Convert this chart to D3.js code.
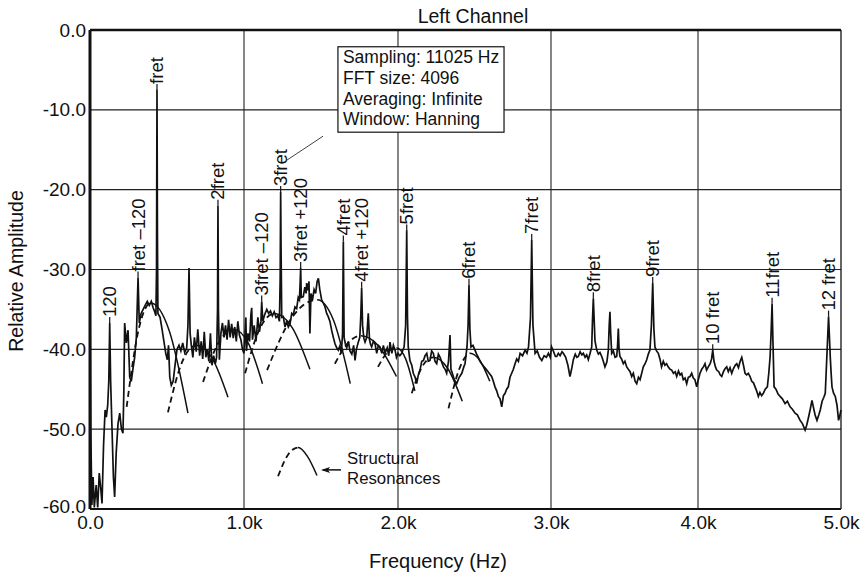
<!DOCTYPE html>
<html>
<head>
<meta charset="utf-8">
<script src="https://cdn.jsdelivr.net/npm/d3@7"></script>
<style>
  body { margin: 0; background: #fff; }
  svg text { font-family: "Liberation Sans", Arial, Helvetica, sans-serif; fill: #111; }
</style>
</head>
<body>
<svg id="chart" width="863" height="576"></svg>
<script>
// ---------------- DATA ----------------
const chartTitle = "Left Channel";
const xAxisTitle = "Frequency (Hz)";
const yAxisTitle = "Relative Amplitude";

const freqTicks = [0, 1000, 2000, 3000, 4000, 5000];
const freqTickLabels = ["0.0", "1.0k", "2.0k", "3.0k", "4.0k", "5.0k"];
const dbTicks = [0, -10, -20, -30, -40, -50, -60];
const dbTickLabels = ["0.0", "-10.0", "-20.0", "-30.0", "-40.0", "-50.0", "-60.0"];

const freqHz = [
  0,5,12,20,28,40,50,60,70,78,88,98,106,115,122,128,134,142,152,160,170,182,193,204,214,220,225,236,247,258,268,280,290,301,312,320,
  332,345,358,372,385,398,410,420,428,432,435,438,441,455,468,480,492,502,510,518,528,540,552,565,578,590,602,615,628,636,643,650,
  658,668,678,690,700,712,722,732,742,752,762,772,782,792,803,814,822,828,831,834,840,850,860,870,880,890,900,910,920,930,940,950,
  960,970,980,990,1000,
  1008,1012,1016,1026,1036,1045,1050,1055,1066,1078,1090,1100,1110,1115,1122,1135,1148,1160,1172,1184,1196,1208,1220,1230,1235,1238,1241,1245,
  1255,1266,1277,1288,1299,1310,1320,1331,1342,1352,1360,1365,1368,1372,1385,1395,1403,1407,1415,1422,1428,1435,1445,1455,1465,1475,
  1483,1492,1504,1515,1526,1537,1547,1558,1569,1580,1591,1602,1612,1622,1632,1640,1645,1650,1658,1667,1678,1688,1700,1712,1721,1730,
  1742,1752,1758,1764,1770,1778,1786,1797,1807,1815,1822,1829,1840,1851,1862,1872,1883,1895,1905,1916,1930,1940,1948,1960,1970,1981,
  1990,2000,
  2012,2024,2040,2050,2057,2062,2067,2078,2090,2100,2112,2122,2133,2144,2155,2166,2177,2188,2198,2209,2220,2231,2242,2253,2264,2275,
  2286,2297,2308,2318,2330,2340,2346,2355,2368,2384,2400,2417,2430,2438,2446,2451,2458,2464,2470,2477,2490,2503,2514,2525,2536,2547,
  2563,2580,2596,2612,2623,2634,2645,2656,2667,2678,2689,2700,2710,2721,2732,2743,2754,2765,2776,2787,2798,2814,2831,2843,2853,2866,
  2874,2882,2896,2910,2925,2940,2955,2970,2983,2995,3004,
  3018,3030,3039,3050,3062,3075,3084,3100,3115,3129,3140,3152,3165,3176,3186,3198,3210,3220,3232,3243,3254,3266,3277,3282,3288,3294,
  3299,3311,3322,3333,3345,3356,3367,3380,3390,3396,3401,3406,3413,3424,3436,3447,3453,3458,3463,3469,3480,3492,3503,3515,3526,3538,
  3549,3560,3572,3583,3595,3606,3617,3628,3640,3651,3662,3673,3683,3692,3700,3707,3718,3730,3741,3752,3764,3775,3786,3797,3810,3821,
  3833,3845,3855,3867,3878,3889,3900,3912,3923,3934,3946,3957,3968,3979,3991,
  4002,4014,4026,4038,4049,4060,4072,4085,4095,4103,4112,4122,4131,4145,4155,4166,4178,4190,4201,4212,4224,4236,4248,4260,4271,4283,
  4295,4306,4318,4329,4340,4352,4364,4376,4388,4399,4410,4422,4433,4445,4457,4470,4485,4495,4504,4511,4518,4524,4532,4545,4560,4574,
  4590,4609,4625,4644,4660,4679,4695,4714,4730,4749,4760,4773,4785,4797,4810,4820,4832,4845,4855,4868,4880,4890,4896,4902,4908,4913,
  4918,4925,4931,4937,4948,4960,4972,4983,4992,5000
];
const amplitudeDb = [
  -30,-50,-59.5,-56,-59.8,-57,-59.8,-55.5,-57.5,-59.3,-52,-47.6,-48.5,-47,-44,-36.7,-44,-49.3,-56,-58.5,-53,-49.3,-48,-50,-50.5,-45,-36.7,-39.2,-37.6,-43.5,-44,-42.3,-41,-38.5,-31,-36.7,
  -35.5,-35,-34.5,-34,-34.5,-34,-34.8,-35.3,-35.8,-30,-7.5,-26,-35.5,-36,-37.5,-39,-40.5,-41.3,-39.5,-43.5,-44.5,-44,-42,-40,-39.5,-40.2,-39.2,-40.4,-39.8,-37,-29.8,-38,
  -39.5,-41,-38.5,-40.3,-37.5,-40.8,-39,-41.2,-37.8,-41,-40,-41.5,-38,-42,-40.8,-41.8,-41,-35,-22,-35,-41.3,-38,-36.7,-38.5,-37,-38.8,-36.3,-38.5,-36.8,-38.6,-37.2,-39,
  -36.5,-38.2,-38.8,-40,-40.5,
  -37.5,-36,-40.2,-38,-39,-35.6,-34.8,-38.8,-37,-39,-36,-37.8,-36.5,-34,-36.5,-35.6,-35,-35.5,-35.2,-35.8,-35.3,-36,-35.8,-36.5,-31,-20.3,-28,-36,
  -35.9,-37.2,-36.5,-37.2,-36.8,-35.5,-35.7,-34.7,-34.9,-33.5,-33.8,-31.5,-29.8,-33.5,-33.4,-32.2,-33,-31.7,-32.6,-31.5,-38,-33,-33.8,-32.5,-33,-31.5,
  -31.1,-32.5,-33.8,-34.2,-34.7,-35.5,-35.9,-36.5,-37.6,-38.5,-39.3,-39.8,-40.1,-39.6,-40.5,-38,-26.5,-38.5,-39.3,-39.8,-39,-40.2,-40.6,-39.5,-41.4,-40,
  -39.1,-38.5,-36,-32.3,-37,-38.6,-39.1,-38.5,-35.5,-38.8,-39.4,-39.7,-39,-39.3,-40.5,-39.5,-39.7,-40.5,-39.5,-40.5,-39.8,-40.8,-39.1,-40.5,-39.5,-40.1,
  -41,-40.5,
  -40.8,-40.5,-39.7,-37,-25.1,-36,-39.7,-41.4,-42,-43,-43.5,-44.3,-43.2,-42.6,-41.5,-41.4,-40.8,-40.5,-41.5,-41.4,-40.2,-40.5,-41.5,-41.8,-40.6,-41,
  -41.6,-42.2,-42.5,-43,-41.5,-38.2,-42.5,-43,-43.8,-44.3,-43.5,-43,-42.2,-41.8,-40.5,-39.7,-37,-31.9,-37.5,-39.7,-39.5,-40.1,-40.6,-41,-41.5,-41.8,
  -42.2,-42.6,-43,-43.4,-44,-44.7,-45.2,-45.9,-46.2,-47.2,-45.8,-45.5,-45,-44.7,-43.5,-43,-42.5,-41.8,-41.2,-41.5,-40.5,-40.8,-40.1,-40.5,-39.7,-36,
  -26.3,-37,-40.5,-40.2,-41,-41.4,-40.8,-41,-40.5,-41,-39.7,
  -40.3,-40.9,-40.9,-40.5,-40.8,-40.3,-40.5,-41,-42,-43.4,-42.5,-41.3,-40.6,-41,-40.9,-40.3,-40.7,-40.5,-41,-40.7,-41.3,-40.5,-39.7,-36.5,-33.6,-36.5,
  -38.9,-40.1,-40.6,-40.4,-40.9,-41.5,-42.2,-41.6,-40.1,-37,-35.3,-38,-40.5,-40.2,-41,-40.9,-39.5,-37.4,-40,-40.9,-41.2,-41.8,-41.5,-42.2,-42.5,-42.8,
  -43.4,-43,-44,-44.3,-43.5,-43.8,-43,-42.2,-41.8,-41.3,-40.6,-40.1,-37,-31.7,-37.5,-39.7,-40.2,-40.5,-41.2,-42.2,-41.5,-42,-41.8,-42.2,-42.5,-42.6,
  -43,-42.8,-43.4,-42.7,-43.2,-43,-43.8,-43.6,-44.3,-43.5,-43.4,-43,-43.6,-43.8,-44.7,
  -43.8,-43,-42.5,-42.2,-41.8,-42.6,-42.2,-41.8,-41.2,-40.1,-41.5,-42.2,-42.6,-42.8,-43.2,-43.4,-42.8,-42.4,-42.2,-42.8,-42.3,-43,-42.4,-42,-41.8,-42.3,
  -41.5,-41,-42,-43,-43.2,-43,-43.4,-44,-44.2,-44.7,-45.2,-45.9,-45.4,-45.8,-45.5,-45,-44.7,-43,-41,-38,-34.3,-39,-44.7,-45,-45.6,-45.9,
  -46.2,-46.8,-46.5,-47.2,-47.5,-48,-48.2,-48.9,-49.3,-50.1,-49.5,-48.5,-47.5,-46.4,-47.5,-48.3,-48.9,-48.2,-47.6,-46.5,-46,-45.5,-43,-40.5,-38,-35.9,
  -38,-41,-43,-44.7,-45.5,-45.9,-47,-48.9,-48.3,-47.6
];

// Peak annotations
const peakLabels = ["120", "fret \u2013120", "fret", "2fret", "3fret \u2013120", "3fret", "3fret +120", "4fret", "4fret +120",
                    "5fret", "6fret", "7fret", "8fret", "9fret", "10 fret", "11fret", "12 fret"];
const peakFreqs  = [128, 312, 435, 831, 1115, 1238, 1368, 1645, 1764, 2057, 2464, 2874, 3288, 3692, 4103, 4518, 4913];
const peakDbs    = [-36.7, -31, -7.5, -22, -34, -20.3, -29.8, -26.5, -32.3, -25.1, -31.9, -26.3, -33.6, -31.7, -40.1, -34.3, -35.9];

// Structural resonance arcs: [freq, dB] foot - shoulder - peak - shoulder - foot
const resonanceArcs = [
  [[238,-47.2],[316,-37.5],[395,-34.2],[515,-37.7],[636,-48]],
  [[506,-47.9],[598,-41.6],[690,-39.5],[793,-41.1],[896,-46]],
  [[734,-44.1],[834,-39.2],[935,-37.5],[1027,-39.2],[1120,-44.3]],
  [[1007,-43],[1103,-37.4],[1200,-35.5],[1314,-37.3],[1428,-42.5]],
  [[1150,-42.6],[1312,-36],[1475,-33.8],[1582,-36.4],[1690,-44.3]],
  [[1590,-41.8],[1675,-39.2],[1760,-38.3],[1875,-39.6],[1990,-43.4]],
  [[1870,-42.2],[1930,-40.4],[1990,-39.8],[2050,-41.2],[2110,-45.2]],
  [[2090,-45.5],[2160,-42.1],[2230,-41],[2325,-42.4],[2420,-46.5]],
  [[2330,-47.4],[2400,-42.5],[2470,-40.5],[2535,-41.4],[2600,-44]]
];
const legendArc = [[1221,-55.9],[1286,-53.2],[1351,-52.3],[1412,-53.4],[1474,-55.8]];
const legendText = ["Structural", "Resonances"];

const infoLines = ["Sampling: 11025 Hz", "FFT size: 4096", "Averaging: Infinite", "Window: Hanning"];

// ---------------- CHART ----------------
const svg = d3.select("#chart");
const x = d3.scaleLinear().domain(freqTicks).range([90, 244, 398, 551, 698, 841]);
const y = d3.scaleLinear().domain([0, -60]).range([30, 509]);
const ink = "#111";
const fontFam = '"Liberation Sans", Arial, sans-serif';

// grid
const g = svg.append("g");
g.selectAll(".vg").data(freqTicks.slice(1, -1)).join("line")
  .attr("x1", d => x(d)).attr("x2", d => x(d)).attr("y1", y(0)).attr("y2", y(-60))
  .attr("stroke", "#222").attr("stroke-width", 1.1);
g.selectAll(".hg").data(dbTicks.slice(1, -1)).join("line")
  .attr("x1", x(0)).attr("x2", x(5000)).attr("y1", d => y(d)).attr("y2", d => y(d))
  .attr("stroke", "#222").attr("stroke-width", 1.1);

// axes labels via d3 axes
const xAxis = d3.axisBottom(x).tickValues(freqTicks).tickFormat((d, i) => freqTickLabels[i]).tickSize(0).tickPadding(7);
const xg = svg.append("g").attr("transform", `translate(0,${y(-60)})`).call(xAxis);
xg.select(".domain").remove();
xg.selectAll("text").attr("font-size", 19).attr("fill", ink).style("font-family", fontFam);

const yAxis = d3.axisLeft(y).tickValues(dbTicks).tickFormat((d, i) => dbTickLabels[i]).tickSize(0).tickPadding(4);
const yg = svg.append("g").attr("transform", `translate(${x(0)},0)`).call(yAxis);
yg.select(".domain").remove();
yg.selectAll("text").attr("font-size", 19).attr("fill", ink).style("font-family", fontFam)
  .attr("dy", (d, i) => i === dbTicks.length - 1 ? "0.2em" : "0.32em");

// info box
const bx0 = x(1610), bx1 = x(2693), by0 = y(-2.1), by1 = y(-12.8);
svg.append("rect").attr("x", bx0).attr("y", by0).attr("width", bx1 - bx0).attr("height", by1 - by0)
  .attr("fill", "#fff").attr("stroke", ink).attr("stroke-width", 1.2);
svg.append("g").selectAll("text").data(infoLines).join("text")
  .attr("x", bx0 + 5).attr("y", (d, i) => by0 + 16.5 + i * 20.7)
  .attr("font-size", 17.5).text(d => d);
// leader from box to "3fret"
svg.append("line").attr("x1", x(1513)).attr("y1", y(-13.3)).attr("x2", x(1279)).attr("y2", y(-16.3))
  .attr("stroke", ink).attr("stroke-width", 0.8);

// resonance arcs (left half dashed, right half solid)
const arcLine = d3.line().x(d => x(d[0])).y(d => y(d[1])).curve(d3.curveMonotoneX);
const defs = svg.append("defs");
function drawArc(arc, id, parent) {
  const px = x(arc[2][0]);
  defs.append("clipPath").attr("id", id + "L").append("rect").attr("x", 0).attr("y", 0).attr("width", px).attr("height", 576);
  defs.append("clipPath").attr("id", id + "R").append("rect").attr("x", px).attr("y", 0).attr("width", 863 - px).attr("height", 576);
  parent.append("path").attr("d", arcLine(arc)).attr("fill", "none").attr("stroke", ink).attr("stroke-width", 1.8)
    .attr("stroke-dasharray", "6,4").attr("clip-path", `url(#${id}L)`);
  parent.append("path").attr("d", arcLine(arc)).attr("fill", "none").attr("stroke", ink).attr("stroke-width", 1.5)
    .attr("clip-path", `url(#${id}R)`);
}
const arcsG = svg.append("g");
resonanceArcs.forEach((a, i) => drawArc(a, "arc" + i, arcsG));

// spectrum trace
const trace = freqHz.map((f, i) => [f, amplitudeDb[i]]);
svg.append("path").datum(trace)
  .attr("d", d3.line().x(d => x(d[0])).y(d => y(d[1])))
  .attr("fill", "none").attr("stroke", ink).attr("stroke-width", 1.7).attr("stroke-linejoin", "miter");

// plot frame
svg.append("line").attr("x1", x(0)).attr("x2", x(5000)).attr("y1", y(0)).attr("y2", y(0)).attr("stroke", ink).attr("stroke-width", 2.5);
svg.append("line").attr("x1", x(0)).attr("x2", x(5000)).attr("y1", y(-60)).attr("y2", y(-60)).attr("stroke", ink).attr("stroke-width", 2);
svg.append("line").attr("x1", x(0)).attr("x2", x(0)).attr("y1", y(0)).attr("y2", y(-60)).attr("stroke", ink).attr("stroke-width", 3);
svg.append("line").attr("x1", x(5000)).attr("x2", x(5000)).attr("y1", y(0)).attr("y2", y(-60)).attr("stroke", ink).attr("stroke-width", 1.3);

// peak labels
const labG = svg.append("g");
peakLabels.forEach((lab, i) => {
  const px = x(peakFreqs[i]), py = y(peakDbs[i]);
  labG.append("line").attr("x1", px).attr("x2", px).attr("y1", py - 6).attr("y2", py)
    .attr("stroke", ink).attr("stroke-width", 1.2);
  labG.append("text").attr("transform", `translate(${px},${py - 6}) rotate(-90)`)
    .attr("dominant-baseline", "central").attr("font-size", 18.5).text(lab);
});

// legend for structural resonances
drawArc(legendArc, "legArc", svg.append("g"));
svg.append("line").attr("x1", x(1630)).attr("x2", x(1512)).attr("y1", y(-55.1)).attr("y2", y(-55.1))
  .attr("stroke", ink).attr("stroke-width", 1.5);
svg.append("path").attr("d", `M${x(1500)},${y(-55.1)} l9,-3 l-2,3 l2,3 z`).attr("fill", ink);
svg.append("g").selectAll("text").data(legendText).join("text")
  .attr("x", x(1669)).attr("y", (d, i) => y(-54.4) + i * 19.5)
  .attr("font-size", 16.8).text(d => d);

// titles
svg.append("text").attr("x", x(2490)).attr("y", 23).attr("text-anchor", "middle")
  .attr("font-size", 19.5).text(chartTitle);
svg.append("text").attr("x", 438).attr("y", 568).attr("text-anchor", "middle")
  .attr("font-size", 20).text(xAxisTitle);
svg.append("text").attr("transform", "translate(23,271) rotate(-90)").attr("text-anchor", "middle")
  .attr("font-size", 19.5).text(yAxisTitle);
</script>
</body>
</html>
